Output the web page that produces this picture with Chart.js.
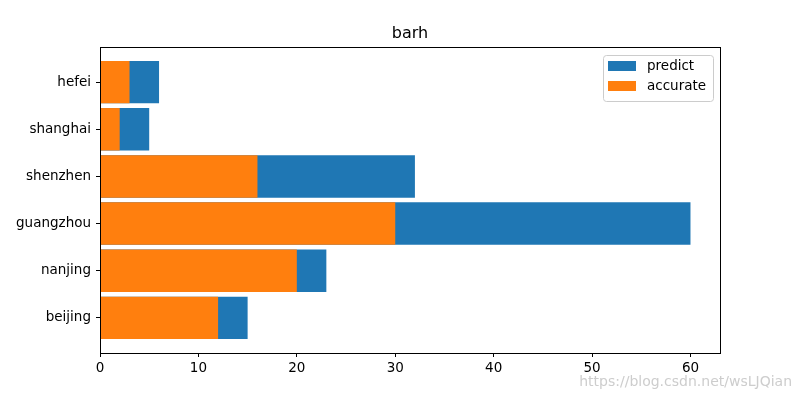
<!DOCTYPE html>
<html>
<head>
<meta charset="utf-8">
<script src="https://cdn.jsdelivr.net/npm/chart.js@4"></script>
<style>
  html, body { margin: 0; padding: 0; background: #fff; }
  #wrap { width: 800px; height: 397px; }
</style>
</head>
<body>
<div id="wrap"><canvas id="grafico" width="800" height="397"></canvas></div>
<script>
const cities = ['beijing', 'nanjing', 'guangzhou', 'shenzhen', 'shanghai', 'hefei'];
const predict = [15, 23, 60, 32, 5, 6];
const accurate = [12, 20, 30, 16, 2, 3];
const xTicks = [0, 10, 20, 30, 40, 50, 60];
const titulo = 'barh';

const FONT = 'DejaVu Sans';
Chart.defaults.font.family = FONT;
Chart.defaults.color = '#000';

function toPoints(values) {
  return values.map((v, i) => ({ x: v, y: i }));
}

// box around the plot, title, inside legend, watermark
const extras = {
  id: 'extras',
  afterDraw(chart) {
    const ctx = chart.ctx;
    const a = chart.chartArea;
    ctx.save();
    ctx.strokeStyle = '#000';
    ctx.lineWidth = 1;
    ctx.strokeRect(Math.round(a.left) + 0.5, Math.round(a.top) + 0.5,
      Math.round(a.right - a.left), Math.round(a.bottom - a.top));

    ctx.fillStyle = '#000';
    ctx.font = '16px "' + FONT + '"';
    ctx.textAlign = 'center';
    ctx.textBaseline = 'middle';
    ctx.fillText(titulo, (a.left + a.right) / 2, 34);

    // legend
    const lx = 603, ly = 55, lw = 110, lh = 46;
    ctx.fillStyle = 'rgba(255,255,255,0.8)';
    ctx.strokeStyle = '#cccccc';
    ctx.beginPath();
    ctx.roundRect(lx + 0.5, ly + 0.5, lw, lh, 3);
    ctx.fill();
    ctx.stroke();
    const items = [chart.data.datasets[1], chart.data.datasets[0]];
    ctx.font = '13.5px "' + FONT + '"';
    ctx.textAlign = 'left';
    items.forEach((ds, i) => {
      const y = 61 + i * 20;
      ctx.fillStyle = ds.backgroundColor;
      ctx.fillRect(608, y, 28, 10);
      ctx.fillStyle = '#000';
      ctx.fillText(ds.label, 647, y + 5);
    });

    // watermark
    ctx.font = '14px "' + FONT + '"';
    ctx.fillStyle = 'rgba(200,200,200,0.9)';
    ctx.textAlign = 'right';
    ctx.textBaseline = 'alphabetic';
    ctx.fillText('https://blog.csdn.net/wsLJQian', 792, 386);
    ctx.restore();
  }
};

new Chart(document.querySelector('#grafico'), {
  type: 'bar',
  data: {
    datasets: [{
      label: 'accurate',
      data: toPoints(accurate),
      backgroundColor: '#ff7f0e',
      grouped: false,
      categoryPercentage: 1,
      barPercentage: 0.9
    }, {
      label: 'predict',
      data: toPoints(predict),
      backgroundColor: '#1f77b4',
      grouped: false,
      categoryPercentage: 1,
      barPercentage: 0.9
    }]
  },
  options: {
    indexAxis: 'y',
    responsive: false,
    animation: false,
    layout: { padding: { left: 0, right: 80, top: 47, bottom: 0 } },
    plugins: {
      legend: { display: false },
      tooltip: { enabled: false },
      title: { display: false }
    },
    scales: {
      x: {
        type: 'linear',
        min: 0,
        max: 63,
        offset: false,
        border: { display: false },
        grid: { drawOnChartArea: false, drawTicks: true, tickLength: 4, color: '#000', offset: false },
        ticks: { font: { size: 13.5 }, padding: 3, maxRotation: 0 },
        afterBuildTicks(scale) {
          scale.ticks = xTicks.map(v => ({ value: v }));
        },
        afterFit(scale) { scale.height = 44; }
      },
      y: {
        type: 'linear',
        min: -0.745,
        max: 5.745,
        offset: false,
        border: { display: false },
        grid: { drawOnChartArea: false, drawTicks: true, tickLength: 4, color: '#000', offset: false },
        ticks: {
          font: { size: 13.5 },
          padding: 5,
          callback: v => cities[v]
        },
        afterBuildTicks(scale) {
          scale.ticks = cities.map((c, i) => ({ value: i }));
        },
        afterFit(scale) { scale.width = 100; }
      }
    }
  },
  plugins: [extras]
});
</script>
</body>
</html>
